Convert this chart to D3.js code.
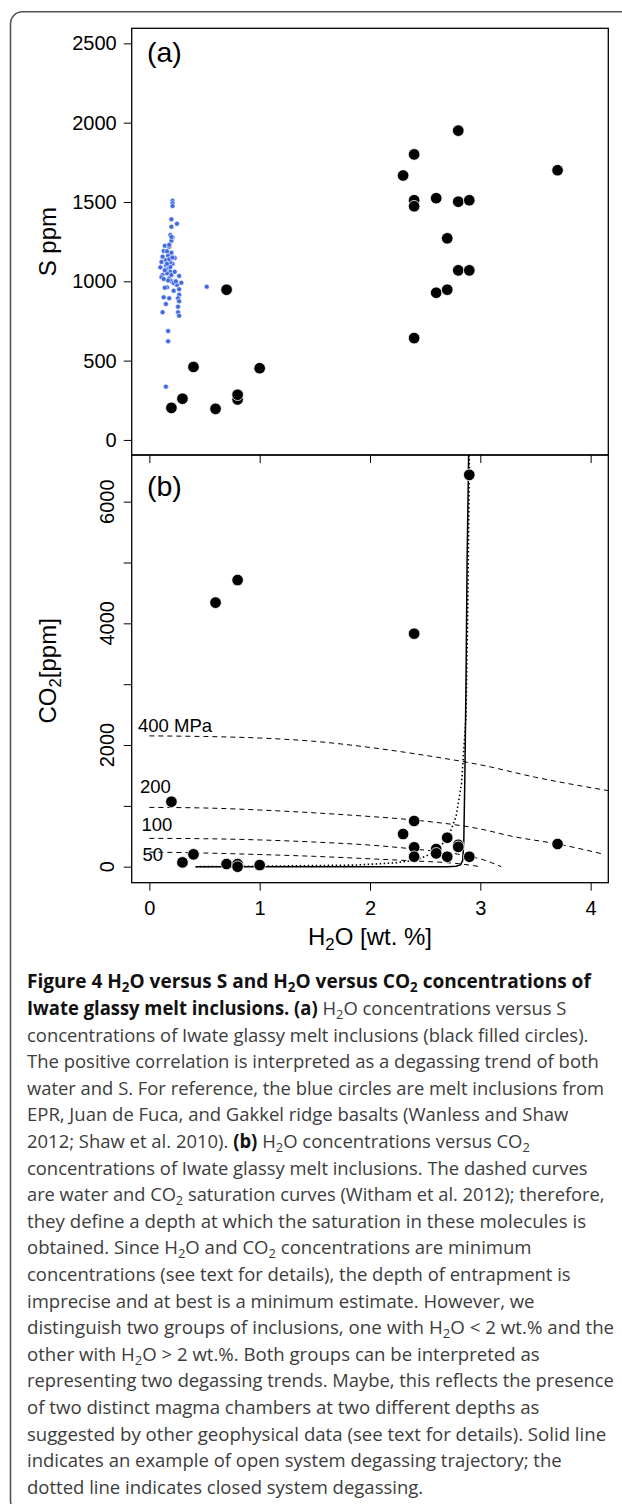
<!DOCTYPE html>
<html>
<head>
<meta charset="utf-8">
<script src="https://cdn.jsdelivr.net/npm/d3@7"></script>
<style>
html,body{margin:0;padding:0;background:#fff;}
svg{display:block;}
</style>
</head>
<body>
<svg id="fig" width="622" height="1504"></svg>
<script>
// ---------------- DATA ----------------
// Panel (a): Iwate melt inclusions, H2O (wt.%) vs S (ppm)
const iwateA_h2o = [0.2, 0.3, 0.4, 0.6, 0.7, 0.8, 0.8, 1.0, 2.3, 2.4, 2.4, 2.4, 2.4, 2.6, 2.6, 2.7, 2.7, 2.8, 2.8, 2.8, 2.9, 2.9, 3.7];
const iwateA_s   = [202, 260, 460, 196, 947, 255, 285, 452, 1667, 1800, 1511, 1473, 642, 1524, 928, 1271, 947, 1950, 1502, 1069, 1511, 1069, 1700];
// Panel (a): reference MORB melt inclusions (EPR, Juan de Fuca, Gakkel)
const ref_h2o = [0.21,0.21,0.21,0.20,0.25,0.20,0.19,0.21,0.20,0.14,0.18,0.13,0.17,0.12,0.23,0.11,0.15,0.10,0.12,0.27,0.11,0.29,0.16,0.25,0.27,0.27,0.13,0.18,0.26,0.27,0.15,0.26,0.12,0.26,0.27,0.17,0.17,0.15,0.52,
                 0.15,0.17,0.19,0.16,0.18,0.20,0.17,0.14,0.21,0.19,0.18,0.20,0.16,0.20,0.22,0.13,0.24,0.14,0.22,0.19,0.16,0.23,0.21,0.18,0.20];
const ref_s   = [1508,1492,1475,1391,1363,1344,1292,1277,1256,1224,1218,1191,1162,1155,1147,1122,1134,1088,1040,1034,1025,991,962,977,950,916,899,893,893,874,857,840,805,805,783,687,622,336,966,
                 1100,1080,1060,1050,1020,1000,1005,1070,1110,1120,1140,1180,1190,1040,990,1015,1000,960,940,1090,1110,1060,1150,1230,1280];
// Panel (b): Iwate melt inclusions, H2O (wt.%) vs CO2 (ppm)
const iwateB_h2o = [2.9, 0.6, 0.8, 2.4, 0.2, 2.4, 2.3, 2.7, 2.8, 2.8, 3.7, 2.4, 2.6, 2.6, 2.4, 2.7, 2.9, 0.4, 0.3, 0.7, 0.8, 0.8, 1.0];
const iwateB_co2 = [6440, 4340, 4712, 3830, 1068, 751, 537, 477, 360, 325, 373, 318, 290, 219, 164, 164, 164, 203, 71, 44, 44, 0, 27];
// Saturation isobars (Witham et al. 2012)
const iso400_h2o = [0, 0.5, 1.0, 1.5, 2.0, 2.5, 3.0, 3.5, 4.16];
const iso400_co2 = [2150, 2140, 2115, 2060, 1960, 1830, 1675, 1470, 1250];
const iso200_h2o = [0, 0.5, 1.0, 1.5, 2.0, 2.4, 3.0, 3.3, 3.7, 4.12];
const iso200_co2 = [975, 965, 932, 885, 825, 767, 620, 495, 373, 205];
const iso100_h2o = [0, 0.5, 1.0, 1.5, 2.0, 2.4, 2.84, 3.05, 3.19];
const iso100_co2 = [466, 460, 440, 405, 355, 290, 192, 100, 0];
const iso50_h2o  = [0, 0.5, 1.0, 1.5, 2.0, 2.4, 2.8, 3.0];
const iso50_co2  = [240, 225, 200, 170, 130, 95, 50, 0];
const isoLabels  = ["400 MPa", "200", "100", "50"];
// Degassing trajectories
const open_h2o = [0.42, 1.0, 2.0, 2.7, 2.78, 2.82, 2.84, 2.85, 2.86, 2.87, 2.88, 2.894];
const open_co2 = [0, 0, 0, 0, 6, 30, 100, 400, 1500, 3000, 5000, 6767];
const closed_h2o = [0.42, 1.16, 1.88, 2.24, 2.42, 2.6, 2.71, 2.78, 2.83, 2.87, 2.885, 2.9, 2.9];
const closed_co2 = [0, 11, 27, 66, 110, 247, 493, 822, 1370, 2466, 4110, 6440, 6767];
// Ticks
const xTicks = [0, 1, 2, 3, 4];
const yTicksA = [0, 500, 1000, 1500, 2000, 2500];
const yTicksB = [0, 1000, 2000, 3000, 4000, 5000, 6000];
const yLabelsB = [0, 2000, 4000, 6000];

// Caption (segments: t=text, b=bold, s=subscript)
const captionLines = [
  [{t:"Figure 4 H",b:1},{t:"2",b:1,s:1},{t:"O versus S and H",b:1},{t:"2",b:1,s:1},{t:"O versus CO",b:1},{t:"2",b:1,s:1},{t:" concentrations of",b:1}],
  [{t:"Iwate glassy melt inclusions. (a)",b:1},{t:" H"},{t:"2",s:1},{t:"O concentrations versus S"}],
  [{t:"concentrations of Iwate glassy melt inclusions (black filled circles)."}],
  [{t:"The positive correlation is interpreted as a degassing trend of both"}],
  [{t:"water and S. For reference, the blue circles are melt inclusions from"}],
  [{t:"EPR, Juan de Fuca, and Gakkel ridge basalts (Wanless and Shaw"}],
  [{t:"2012; Shaw et al. 2010). "},{t:"(b)",b:1},{t:" H"},{t:"2",s:1},{t:"O concentrations versus CO"},{t:"2",s:1}],
  [{t:"concentrations of Iwate glassy melt inclusions. The dashed curves"}],
  [{t:"are water and CO"},{t:"2",s:1},{t:" saturation curves (Witham et al. 2012); therefore,"}],
  [{t:"they define a depth at which the saturation in these molecules is"}],
  [{t:"obtained. Since H"},{t:"2",s:1},{t:"O and CO"},{t:"2",s:1},{t:" concentrations are minimum"}],
  [{t:"concentrations (see text for details), the depth of entrapment is"}],
  [{t:"imprecise and at best is a minimum estimate. However, we"}],
  [{t:"distinguish two groups of inclusions, one with H"},{t:"2",s:1},{t:"O < 2 wt.% and the"}],
  [{t:"other with H"},{t:"2",s:1},{t:"O > 2 wt.%. Both groups can be interpreted as"}],
  [{t:"representing two degassing trends. Maybe, this reflects the presence"}],
  [{t:"of two distinct magma chambers at two different depths as"}],
  [{t:"suggested by other geophysical data (see text for details). Solid line"}],
  [{t:"indicates an example of open system degassing trajectory; the"}],
  [{t:"dotted line indicates closed system degassing."}]
];
// measured right ends of caption lines (layout)
const captionEnds = [591.4,566.8,588.6,599.3,604.4,568.8,530.3,587.8,605.2,586.6,531.9,570.7,535,614.3,539.8,614.3,539.8,606.4,562,423.3];

// ---------------- LAYOUT ----------------
const svg = d3.select("#fig");
const FONT = "'Liberation Sans', Arial, Helvetica, sans-serif";
const L = 131.7, R = 608.3, TA = 28.3, MID = 455, BB = 882.7;

const x = d3.scaleLinear().domain([-0.16, 4.16]).range([L, R]);
const yA = d3.scaleLinear().domain([-95, 2595]).range([MID, TA]);
const yB = d3.scaleLinear().domain([-263, 6767]).range([BB, MID]);

// outer frame
svg.append("rect").attr("x", 10.5).attr("y", 11.7).attr("width", 640).attr("height", 1501)
  .attr("rx", 12).attr("ry", 12).attr("fill", "none").attr("stroke", "#555").attr("stroke-width", 1.6);

// clip paths
const defs = svg.append("defs");
defs.append("clipPath").attr("id", "clipA").append("rect").attr("x", L).attr("y", TA).attr("width", R - L).attr("height", MID - TA);
defs.append("clipPath").attr("id", "clipB").append("rect").attr("x", L).attr("y", MID).attr("width", R - L).attr("height", BB - MID);

function styleAxis(g, size) {
  g.select(".domain").remove();
  g.selectAll(".tick line").attr("stroke", "#000").attr("stroke-width", 1);
  g.selectAll(".tick text").attr("font-family", FONT).attr("font-size", size).attr("fill", "#000");
}

// ---- Panel (a) ----
const gA = svg.append("g");
const axA = gA.append("g").attr("transform", `translate(${L},0)`)
  .call(d3.axisLeft(yA).tickValues(yTicksA).tickSize(8).tickPadding(7).tickFormat(d3.format("d")));
styleAxis(axA, 20);
const axAx = gA.append("g").attr("transform", `translate(0,${MID})`)
  .call(d3.axisBottom(x).tickValues(xTicks).tickSize(8).tickFormat(""));
styleAxis(axAx, 20);

const ptsA = gA.append("g").attr("clip-path", "url(#clipA)");
ptsA.selectAll("circle.ref").data(ref_h2o.map((h, i) => [h, ref_s[i]])).join("circle")
  .attr("class", "ref").attr("cx", d => x(d[0])).attr("cy", d => yA(d[1])).attr("r", 2.5)
  .attr("fill", "#4169E1").attr("stroke", "#fff").attr("stroke-width", 0.6);
ptsA.selectAll("circle.iw").data(iwateA_h2o.map((h, i) => [h, iwateA_s[i]])).join("circle")
  .attr("class", "iw").attr("cx", d => x(d[0])).attr("cy", d => yA(d[1])).attr("r", 5.8)
  .attr("fill", "#000").attr("stroke", "#fff").attr("stroke-width", 0.8);

gA.append("rect").attr("x", L).attr("y", TA).attr("width", R - L).attr("height", MID - TA)
  .attr("fill", "none").attr("stroke", "#000").attr("stroke-width", 1.3);
gA.append("text").attr("x", 147).attr("y", 61.5).attr("font-family", FONT).attr("font-size", 28.5).text("(a)");
gA.append("text").attr("transform", `translate(56,${(TA + MID) / 2}) rotate(-90)`).attr("text-anchor", "middle")
  .attr("font-family", FONT).attr("font-size", 24).text("S ppm");

// ---- Panel (b) ----
const gB = svg.append("g");
const axB = gB.append("g").attr("transform", `translate(${L},0)`)
  .call(d3.axisLeft(yB).tickValues(yTicksB).tickSize(8).tickFormat(""));
styleAxis(axB, 20);
gB.selectAll("text.ylabB").data(yLabelsB).join("text").attr("class", "ylabB")
  .attr("transform", d => `translate(113.5,${yB(d)}) rotate(-90)`).attr("text-anchor", "middle")
  .attr("font-family", FONT).attr("font-size", 20).text(d => d);
const axBx = gB.append("g").attr("transform", `translate(0,${BB})`)
  .call(d3.axisBottom(x).tickValues(xTicks).tickSize(8).tickPadding(10).tickFormat(d3.format("d")));
styleAxis(axBx, 20);
axBx.selectAll(".tick text").attr("dy", null).attr("y", 32.3);

const linesB = gB.append("g").attr("clip-path", "url(#clipB)");
const line = d3.line().x(d => x(d[0])).y(d => yB(d[1])).curve(d3.curveMonotoneX);
const zip = (a, b) => a.map((v, i) => [v, b[i]]);
const isobars = [[iso400_h2o, iso400_co2], [iso200_h2o, iso200_co2], [iso100_h2o, iso100_co2], [iso50_h2o, iso50_co2]];
isobars.forEach(([h, c]) => {
  linesB.append("path").attr("d", line(zip(h, c))).attr("fill", "none").attr("stroke", "#000")
    .attr("stroke-width", 1).attr("stroke-dasharray", "5,4");
});
// open system (solid)
linesB.append("path").attr("d", d3.line().x(d => x(d[0])).y(d => yB(d[1])).curve(d3.curveLinear)(zip(open_h2o, open_co2)))
  .attr("fill", "none").attr("stroke", "#000").attr("stroke-width", 1.5).attr("stroke-linejoin", "round");
// closed system (dotted)
linesB.append("path").attr("d", d3.line().x(d => x(d[0])).y(d => yB(d[1])).curve(d3.curveLinear)(zip(closed_h2o, closed_co2)))
  .attr("fill", "none").attr("stroke", "#000").attr("stroke-width", 1.6).attr("stroke-dasharray", "1.5,2.5");

const ptsB = gB.append("g").attr("clip-path", "url(#clipB)");
ptsB.selectAll("circle").data(zip(iwateB_h2o, iwateB_co2)).join("circle")
  .attr("cx", d => x(d[0])).attr("cy", d => yB(d[1])).attr("r", 5.8)
  .attr("fill", "#000").attr("stroke", "#fff").attr("stroke-width", 0.8);

// isobar labels
const isoLabelPos = [[138, 731.5], [140, 793.3], [141.5, 830.7], [142.5, 860.5]];
gB.selectAll("text.iso").data(isoLabels).join("text").attr("class", "iso")
  .attr("x", (d, i) => isoLabelPos[i][0]).attr("y", (d, i) => isoLabelPos[i][1])
  .attr("font-family", FONT).attr("font-size", 18.5).text(d => d);

gB.append("rect").attr("x", L).attr("y", MID).attr("width", R - L).attr("height", BB - MID)
  .attr("fill", "none").attr("stroke", "#000").attr("stroke-width", 1.3);
gB.append("text").attr("x", 147).attr("y", 495.5).attr("font-family", FONT).attr("font-size", 28.5).text("(b)");

// rich text helper
function rich(textSel, segs, size, subShift, normalFill, boldFill) {
  let shifted = false;
  segs.forEach(s => {
    const t = textSel.append("tspan").text(s.t);
    if (s.b) t.attr("font-weight", "bold").attr("fill", boldFill); else t.attr("fill", normalFill);
    if (s.s) { t.attr("font-size", size * 0.7); if (!shifted) { t.attr("dy", subShift); shifted = true; } }
    else if (shifted) { t.attr("dy", -subShift); shifted = false; }
  });
}
// CO2 label
const co2Lab = gB.append("text").attr("transform", `translate(56,${(MID + BB) / 2 + 2}) rotate(-90)`).attr("text-anchor", "middle")
  .attr("font-family", FONT).attr("font-size", 24);
rich(co2Lab, [{t:"CO"},{t:"2",s:1},{t:"[ppm]"}], 24, 5, "#000", "#000");
// H2O label
const h2oLab = svg.append("text").attr("x", (L + R) / 2).attr("y", 945).attr("text-anchor", "middle")
  .attr("font-family", FONT).attr("font-size", 24);
rich(h2oLab, [{t:"H"},{t:"2",s:1},{t:"O [wt. %]"}], 24, 5, "#000", "#000");

// ---- Caption ----
const CAP_FONT = "'Open Sans', 'Noto Sans', sans-serif";
const capX = 27, capY0 = 988.3, capDY = 26.6;
captionLines.forEach((segs, i) => {
  const g = svg.append("g");
  const t = g.append("text").attr("x", 0).attr("y", 0).attr("font-family", CAP_FONT).attr("font-size", 19);
  rich(t, segs, 19, 4, "#3c3c3c", "#111");
  const w = t.node().getComputedTextLength();
  const sx = (captionEnds[i] - capX) / w;
  g.attr("transform", `translate(${capX},${capY0 + i * capDY}) scale(${sx},1)`);
});
</script>
</body>
</html>
